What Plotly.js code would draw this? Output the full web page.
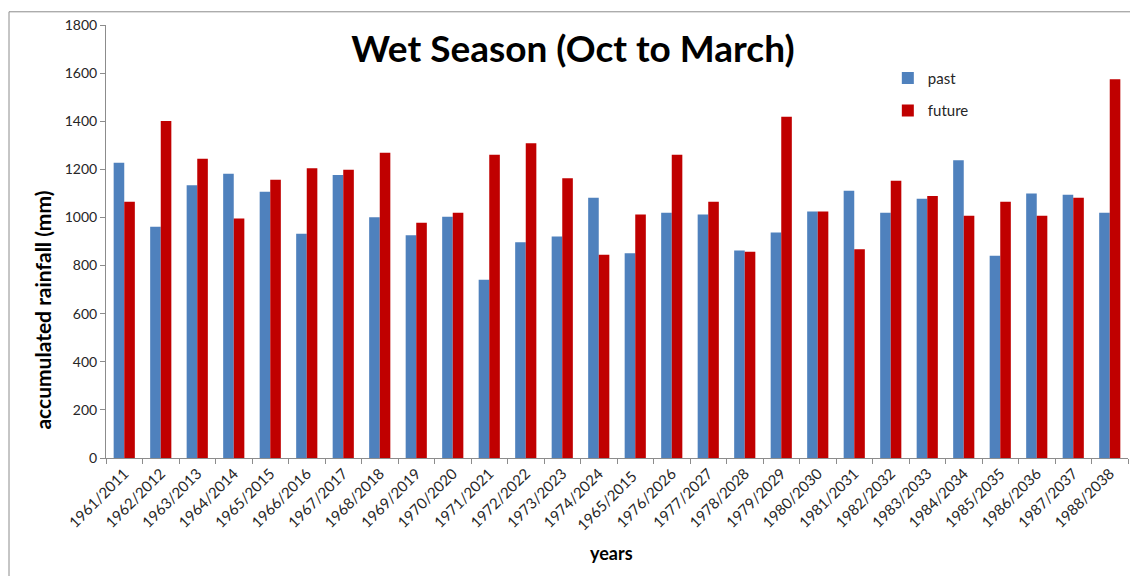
<!DOCTYPE html>
<html>
<head>
<meta charset="utf-8">
<script src="https://cdn.plot.ly/plotly-3.0.1.min.js"></script>
<style>
  html, body { margin: 0; padding: 0; background: #fff; overflow: hidden; }
  #chart { width: 1130px; height: 576px; }
</style>
</head>
<body>
<div id="chart"></div>
<script>
const categories = ["1961/2011","1962/2012","1963/2013","1964/2014","1965/2015","1966/2016","1967/2017","1968/2018","1969/2019","1970/2020","1971/2021","1972/2022","1973/2023","1974/2024","1965/2015 ","1976/2026","1977/2027","1978/2028","1979/2029","1980/2030","1981/2031","1982/2032","1983/2033","1984/2034","1985/2035","1986/2036","1987/2037","1988/2038"];
const past = [1227, 961, 1134, 1182, 1107, 932, 1176, 1001, 926, 1003, 741, 897, 921, 1082, 851, 1019, 1012, 863, 937, 1025, 1111, 1019, 1078, 1238, 841, 1100, 1094, 1019];
const future = [1065, 1401, 1244, 996, 1157, 1204, 1198, 1269, 978, 1019, 1261, 1308, 1163, 845, 1012, 1261, 1065, 857, 1419, 1025, 868, 1153, 1089, 1007, 1065, 1007, 1082, 1574];
const yTicks = [0, 200, 400, 600, 800, 1000, 1200, 1400, 1600, 1800];

const traces = [
  { type: 'bar', name: 'past', legendgroup: 'g1', x: categories, y: past, marker: { color: '#4F81BD', line: { width: 0 } } },
  { type: 'bar', name: 'future', legendgroup: 'g2', x: categories, y: future, marker: { color: '#C00000', line: { width: 0 } } }
];

const layout = {
  width: 1130, height: 576,
  margin: { l: 106, r: 2, t: 25, b: 118 },
  paper_bgcolor: '#fff',
  plot_bgcolor: 'rgba(0,0,0,0)',
  barmode: 'group',
  bargap: 0.42,
  bargroupgap: 0,
  font: { family: 'Lato, "Open Sans", sans-serif', color: '#262626', size: 13 },
  title: {
    text: '<b>Wet Season (Oct to March)</b>',
    x: 0.507, xanchor: 'center', y: 0.915, yanchor: 'middle',
    font: { size: 37, color: '#000', family: 'Lato, "Open Sans", sans-serif' }
  },
  showlegend: true,
  legend: {
    x: 0.765, y: 0.915, xanchor: 'left', yanchor: 'top',
    bgcolor: 'rgba(0,0,0,0)', font: { size: 15, color: '#262626' },
    tracegroupgap: 10, itemwidth: 30, traceorder: 'grouped'
  },
  xaxis: {
    type: 'category',
    tickangle: -45,
    tickson: 'boundaries',
    ticks: 'outside', ticklen: 5, tickcolor: '#8c8c8c',
    showline: true, linecolor: '#8c8c8c', linewidth: 1,
    showgrid: false, zeroline: false,
    tickfont: { size: 15, color: '#262626' }
  },
  yaxis: {
    range: [0, 1800],
    tickvals: yTicks,
    ticks: 'outside', ticklen: 5, tickcolor: '#8c8c8c',
    showline: true, linecolor: '#8c8c8c', linewidth: 1,
    showgrid: false, zeroline: false,
    tickfont: { size: 14, color: '#262626' }
  },
  shapes: [
    { type: 'line', xref: 'paper', yref: 'paper', x0: -0.0949, x1: 1.05, y0: 1.0305, y1: 1.0305,
      line: { color: '#8c8c8c', width: 1 } },
    { type: 'line', xref: 'paper', yref: 'paper', x0: -0.0949, x1: -0.0949, y0: 1.0305, y1: -0.4,
      line: { color: '#8c8c8c', width: 1 } }
  ],
  annotations: [
    { text: '<b>accumulated rainfall (mm)</b>', xref: 'paper', yref: 'paper',
      x: -0.062, y: 0.342, xanchor: 'center', yanchor: 'middle', textangle: -90,
      showarrow: false, font: { size: 21, color: '#000' } },
    { text: '<b>years</b>', xref: 'paper', yref: 'paper',
      x: 0.495, y: -0.219, xanchor: 'center', yanchor: 'middle',
      showarrow: false, font: { size: 18, color: '#000' } }
  ]
};

Plotly.newPlot('chart', traces, layout, { displayModeBar: false, staticPlot: true });
</script>
</body>
</html>
